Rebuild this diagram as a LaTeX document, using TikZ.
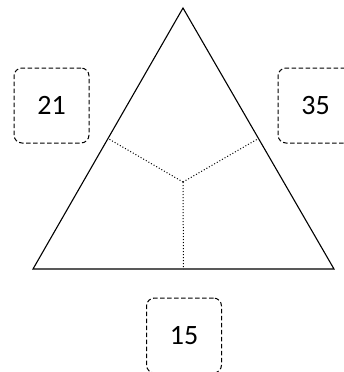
\documentclass[tikz,border=0pt]{standalone}
\usepackage{fontspec}
\setmainfont{Carlito}
\usetikzlibrary{positioning,calc}

\begin{document}
\begin{tikzpicture}[
 x=1pt,y=-1pt,font=\fontsize{28}{32}\selectfont,
 valbox/.style={draw,dash pattern=on 4.5pt off 2.5pt,rounded corners=8pt,minimum width=75pt,minimum height=75pt,inner sep=0pt,line width=1pt},
 split/.style={dash pattern=on 1pt off 2pt,line width=1pt}
]
\clip (0,0) rectangle (344,372);
\coordinate (top) at (183,8);
\coordinate (left) at (33,269);
\coordinate (right) at (334,269);
\coordinate (mid) at (183,182);
\draw[line width=1.1pt,line join=miter] (top) -- (left) -- (right) -- cycle;
\foreach \a/\b in {top/left,top/right,left/right}
 \draw[split] (mid) -- ($(\a)!0.5!(\b)$);
\node[valbox] (boxa) at (51.5,105.5) {21};
\node[valbox] (boxb) at (315.5,105.5) {35};
\node[valbox] (boxc) at (184,335.5) {15};
\end{tikzpicture}
\end{document}
